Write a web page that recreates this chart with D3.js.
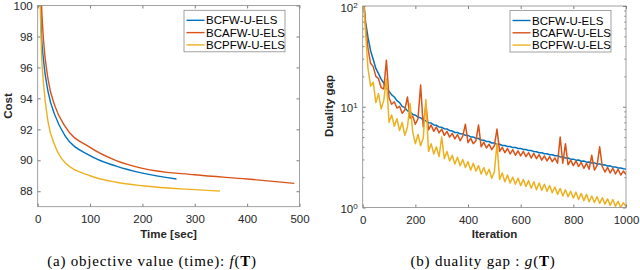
<!DOCTYPE html>
<html>
<head>
<meta charset="utf-8">
<script src="https://cdn.jsdelivr.net/npm/d3@7"></script>
<style>
body { margin: 0; background: #fff; }
svg { display: block; }
.tick text { font-family: "Liberation Sans", Arial, sans-serif; font-size: 11.5px; fill: #262626; }
.tick line { stroke: #262626; stroke-width: 0.6; }
.lbl { font-family: "Liberation Sans", Arial, sans-serif; font-size: 11.5px; font-weight: bold; fill: #262626; }
.leg { font-family: "Liberation Sans", Arial, sans-serif; font-size: 11.5px; fill: #000; }
.cap { font-family: "Liberation Serif", "Times New Roman", serif; font-size: 15px; letter-spacing: 0.8px; fill: #000; }
</style>
</head>
<body>
<script>
var W = 640, H = 270;
var names = ["BCFW-U-ELS", "BCAFW-U-ELS", "BCPFW-U-ELS"];
var colors = ["#0072BD", "#D95319", "#EDB120"];

// (a) cost vs time [sec]
var timeBlue = [5, 7, 11, 20, 33, 52, 100, 150, 200, 265];
var costBlue = [100.8, 98.3, 96.5, 94.4, 92.9, 91.6, 90.3, 89.62, 89.17, 88.79];
var timeRed = [6, 8, 11, 20, 33, 52, 100, 150, 200, 300, 400, 490];
var costRed = [101, 99.5, 97.8, 95.2, 93.5, 92.2, 90.83, 89.98, 89.48, 89.06, 88.79, 88.51];
var timeYel = [4, 6, 7, 11, 20, 33, 52, 100, 150, 200, 300, 348];
var costYel = [101, 98.5, 97.2, 95.0, 92.45, 90.94, 89.86, 89.0, 88.58, 88.35, 88.1, 88.01];
var costTicks = [88, 90, 92, 94, 96, 98, 100];
var timeTicks = [0, 100, 200, 300, 400, 500];

// (b) duality gap, one value every 10 iterations (0..1000)
var gapBlue = [150, 72, 49, 36, 29.5, 24, 21.3, 18.8, 17.2, 15.4,
  14.3, 13.1, 12.5, 11.5, 11.0, 10.1, 9.8, 9.1, 8.9, 8.4,
  8.25, 7.9, 7.75, 7.4, 7.25, 6.95, 6.9, 6.6, 6.55, 6.3,
  6.25, 6.05, 6.02, 5.8, 5.76, 5.55, 5.55, 5.38, 5.37, 5.2,
  5.19, 5.02, 5.02, 4.86, 4.84, 4.68, 4.66, 4.52, 4.52, 4.37,
  4.36, 4.24, 4.24, 4.13, 4.13, 4.02, 4.03, 3.93, 3.95, 3.85,
  3.86, 3.77, 3.76, 3.68, 3.67, 3.59, 3.58, 3.5, 3.5, 3.42,
  3.42, 3.34, 3.34, 3.26, 3.26, 3.18, 3.18, 3.1, 3.1, 3.02,
  3.02, 2.95, 2.96, 2.88, 2.89, 2.82, 2.83, 2.76, 2.77, 2.7,
  2.71, 2.64, 2.65, 2.58, 2.59, 2.52, 2.53, 2.47, 2.47, 2.42,
  2.41];
var gapRed = [150, 68, 38, 27, 25, 20, 19, 15.5, 15, 29,
  12.2, 10.6, 11.2, 9.7, 10.1, 8.6, 9.3, 12.5, 7.7, 8.1,
  6.7, 7.6, 16.4, 6.3, 10.5, 5.9, 6.6, 5.7, 6.3, 5.5,
  6.0, 5.2, 5.7, 5.0, 5.45, 4.8, 5.3, 4.6, 5.1, 6.7,
  4.4, 4.85, 4.3, 4.6, 6.6, 4.0, 4.45, 3.9, 4.25, 3.75,
  4.1, 6.0, 3.6, 3.95, 3.5, 3.85, 3.4, 3.75, 3.3, 3.65,
  3.25, 3.6, 3.2, 3.5, 3.1, 3.45, 3.05, 3.35, 2.95, 3.25,
  2.9, 3.2, 2.85, 3.1, 2.75, 5.0, 2.75, 4.3, 2.65, 2.95,
  2.6, 2.9, 2.55, 2.8, 2.45, 2.75, 2.4, 3.3, 2.35, 2.6,
  4.0, 2.55, 2.25, 2.5, 2.2, 2.45, 2.15, 2.4, 2.1, 2.3,
  2.12];
var gapYel = [150, 60, 24, 16, 17.5, 11, 13.5, 9.5, 11.5, 19,
  7.0, 8.3, 6.4, 7.6, 5.8, 7.0, 5.2, 6.3, 10.8, 5.6,
  4.3, 5.3, 4.1, 4.9, 11.8, 3.6, 4.3, 3.4, 4.0, 3.2,
  5.0, 3.05, 3.6, 2.9, 3.3, 2.7, 3.15, 2.6, 3.0, 2.5,
  2.85, 2.35, 2.75, 2.3, 2.6, 2.15, 2.5, 2.1, 2.4, 1.95,
  2.25, 4.3, 1.9, 2.2, 1.8, 2.1, 1.75, 2.0, 1.7, 1.95,
  1.65, 1.9, 1.62, 1.85, 1.55, 1.8, 1.5, 1.75, 1.48, 1.7,
  1.45, 1.65, 1.4, 1.6, 1.35, 1.55, 1.3, 1.5, 1.28, 1.45,
  1.24, 1.42, 1.2, 1.38, 1.17, 1.35, 1.14, 1.3, 1.12, 1.28,
  1.1, 1.25, 1.08, 1.22, 1.05, 1.2, 1.03, 1.15, 1.0, 1.12,
  1.02];
var iterTicks = [0, 200, 400, 600, 800, 1000];
var gapTicks = [1, 10, 100];
var gapMinor = [2, 3, 4, 5, 6, 7, 8, 9, 20, 30, 40, 50, 60, 70, 80, 90];

var svg = d3.select("body").append("svg").attr("width", W).attr("height", H);

// ---------- (a) ----------
var xa = d3.scaleLinear().domain([0, 500]).range([37.7, 299.5]);
var ya = d3.scaleLinear().domain([87, 100]).range([206.7, 5.5]);
var ga = svg.append("g");

ga.append("clipPath").attr("id", "clipA").append("rect")
  .attr("x", 37.7).attr("y", 5.5).attr("width", 299.5 - 37.7).attr("height", 206.7 - 5.5);

ga.append("g").attr("transform", "translate(0,206.7)")
  .call(d3.axisBottom(xa).tickValues(timeTicks).tickSize(-3).tickPadding(8).tickFormat(d3.format("d")));
ga.append("g").attr("transform", "translate(0,5.5)")
  .call(d3.axisTop(xa).tickValues(timeTicks).tickSize(-3).tickFormat(""));
ga.append("g").attr("transform", "translate(37.7,0)")
  .call(d3.axisLeft(ya).tickValues(costTicks).tickSize(-3).tickPadding(5));
ga.append("g").attr("transform", "translate(299.5,0)")
  .call(d3.axisRight(ya).tickValues(costTicks).tickSize(-3).tickFormat(""));
ga.selectAll(".domain").remove();

var lineA = d3.line().curve(d3.curveMonotoneX)
  .x(function(d) { return xa(d[0]); }).y(function(d) { return ya(d[1]); });
var seriesA = [d3.zip(timeBlue, costBlue), d3.zip(timeRed, costRed), d3.zip(timeYel, costYel)];
ga.append("g").attr("clip-path", "url(#clipA)").selectAll("path")
  .data(seriesA).enter().append("path")
  .attr("d", lineA).attr("fill", "none")
  .attr("stroke", function(d, i) { return colors[i]; })
  .attr("stroke-width", 1.4);

ga.append("rect").attr("x", 37.7).attr("y", 5.5).attr("width", 299.5 - 37.7).attr("height", 206.7 - 5.5)
  .attr("fill", "none").attr("stroke", "#8a8a8a").attr("stroke-width", 0.8);

ga.append("text").attr("class", "lbl").attr("x", 168.6).attr("y", 238).attr("text-anchor", "middle").text("Time [sec]");
ga.append("text").attr("class", "lbl").attr("transform", "translate(12,106) rotate(-90)")
  .attr("text-anchor", "middle").text("Cost");

// ---------- (b) ----------
var xb = d3.scaleLinear().domain([0, 1000]).range([362.7, 626]);
var yb = d3.scaleLog().domain([1, 100]).range([207.5, 6]);
var gb = svg.append("g");

gb.append("clipPath").attr("id", "clipB").append("rect")
  .attr("x", 362.7).attr("y", 6).attr("width", 626 - 362.7).attr("height", 207.5 - 6);

gb.append("g").attr("transform", "translate(0,207.5)")
  .call(d3.axisBottom(xb).tickValues(iterTicks).tickSize(-3).tickPadding(8).tickFormat(d3.format("d")));
gb.append("g").attr("transform", "translate(0,6)")
  .call(d3.axisTop(xb).tickValues(iterTicks).tickSize(-3).tickFormat(""));
var yAxL = gb.append("g").attr("transform", "translate(362.7,0)")
  .call(d3.axisLeft(yb).tickValues(gapTicks).tickSize(-3).tickPadding(5).tickFormat(""));
gb.append("g").attr("transform", "translate(626,0)")
  .call(d3.axisRight(yb).tickValues(gapTicks).tickSize(-3).tickFormat(""));
gb.append("g").attr("transform", "translate(362.7,0)")
  .call(d3.axisLeft(yb).tickValues(gapMinor).tickSize(-1.6).tickFormat(""));
gb.append("g").attr("transform", "translate(626,0)")
  .call(d3.axisRight(yb).tickValues(gapMinor).tickSize(-1.6).tickFormat(""));
gb.selectAll(".domain").remove();

// 10^k labels
yAxL.selectAll(".tick").each(function(d) {
  var t = d3.select(this).select("text").attr("dy", "0.45em");
  t.append("tspan").text("10");
  t.append("tspan").attr("dy", "-0.5em").attr("font-size", "8px").text(Math.round(Math.log10(d)));
});

var iters = d3.range(0, 1001, 10);
var lineB = d3.line()
  .x(function(d) { return xb(d[0]); }).y(function(d) { return yb(d[1]); });
var seriesB = [d3.zip(iters, gapBlue), d3.zip(iters, gapRed), d3.zip(iters, gapYel)];
gb.append("g").attr("clip-path", "url(#clipB)").selectAll("path")
  .data(seriesB).enter().append("path")
  .attr("d", lineB).attr("fill", "none")
  .attr("stroke", function(d, i) { return colors[i]; })
  .attr("stroke-width", 1.5).attr("stroke-linejoin", "round");

gb.append("rect").attr("x", 362.7).attr("y", 6).attr("width", 626 - 362.7).attr("height", 207.5 - 6)
  .attr("fill", "none").attr("stroke", "#8a8a8a").attr("stroke-width", 0.8);

gb.append("text").attr("class", "lbl").attr("x", 494.5).attr("y", 238).attr("text-anchor", "middle").text("Iteration");
gb.append("text").attr("class", "lbl").attr("transform", "translate(333,106) rotate(-90)")
  .attr("text-anchor", "middle").text("Duality gap");

// ---------- legends ----------
function legend(x, y) {
  var g = svg.append("g").attr("transform", "translate(" + x + "," + y + ")");
  g.append("rect").attr("width", 101).attr("height", 41.5)
    .attr("fill", "#fff").attr("stroke", "#8a8a8a").attr("stroke-width", 0.8);
  names.forEach(function(n, i) {
    var yy = 10 + i * 12.3;
    g.append("line").attr("x1", 2.5).attr("x2", 20.5).attr("y1", yy).attr("y2", yy)
      .attr("stroke", colors[i]).attr("stroke-width", 1.4);
    g.append("text").attr("class", "leg").attr("x", 22).attr("y", yy).attr("dy", "0.36em").text(n);
  });
}
legend(184, 10.3);
legend(510, 10.5);

// ---------- captions ----------
var capA = svg.append("text").attr("class", "cap").attr("x", 152).attr("y", 266).attr("text-anchor", "middle");
capA.append("tspan").text("(a) objective value (time): ");
capA.append("tspan").attr("font-style", "italic").text("f");
capA.append("tspan").text("(");
capA.append("tspan").attr("font-weight", "bold").text("T");
capA.append("tspan").text(")");

var capB = svg.append("text").attr("class", "cap").attr("x", 483).attr("y", 266).attr("text-anchor", "middle");
capB.append("tspan").text("(b) duality gap : ");
capB.append("tspan").attr("font-style", "italic").text("g");
capB.append("tspan").text("(");
capB.append("tspan").attr("font-weight", "bold").text("T");
capB.append("tspan").text(")");
</script>
</body>
</html>
